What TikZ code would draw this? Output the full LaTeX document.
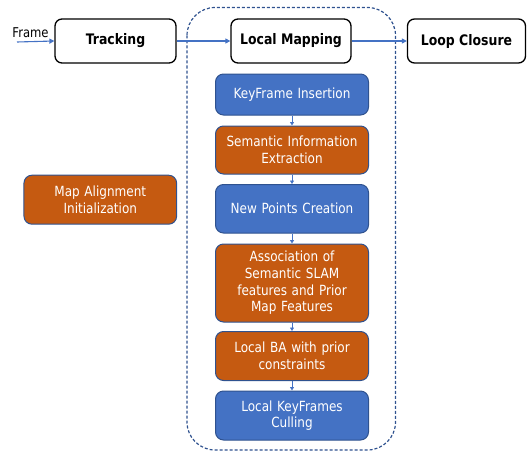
\documentclass[tikz,border=0pt]{standalone}
\usepackage{fontspec}
\setmainfont{DejaVu Sans}[FakeStretch=0.86]
\usetikzlibrary{arrows.meta}
\definecolor{boxblue}{HTML}{4472C4}
\definecolor{boxorange}{HTML}{C55A11}
\definecolor{edgeblue}{HTML}{2F528F}
\begin{document}
\begin{tikzpicture}[x=1pt,y=-1pt,
  topbox/.style={draw=black, line width=1.3pt, rounded corners=7pt, fill=white,
    minimum height=44pt, font=\fontsize{14.5}{17}\selectfont\bfseries, inner sep=0pt},
  stepbox/.style={draw=edgeblue, line width=1pt, rounded corners=8pt, text=white,
    minimum width=153pt, align=center, text width=150pt, inner sep=0pt,
    font=\fontsize{14}{16.7}\selectfont},
  bluebox/.style={stepbox, fill=boxblue},
  orangebox/.style={stepbox, fill=boxorange},
  flow/.style={draw=boxblue, line width=1.1pt, -{Triangle[length=5pt,width=5pt]}},
  small/.style={draw=boxblue, line width=1pt, -{Triangle[length=3.5pt,width=4pt]}}
]
\useasboundingbox (0,0) rectangle (527,452);
% container
\draw[edgeblue, line width=1.2pt, dash pattern=on 3pt off 2pt, rounded corners=28pt]
  (187,7.5) rectangle (395.5,450);
% top row
\node[topbox, minimum width=121pt] (track) at (115.5,41) {Tracking};
\node[topbox, minimum width=120pt] (lm) at (291,41) {Local Mapping};
\node[topbox, minimum width=118pt] (lc) at (466.5,41) {Loop Closure};
\node[font=\fontsize{13.5}{16}\selectfont, inner sep=0pt] (frame) at (30.5,33) {Frame};
\coordinate (fstart) at (17,42);
\draw[flow] (fstart) -- (track.west);
\draw[flow] (track.east) -- (lm.west);
\draw[flow] (lm.east) -- (lc.west);
% steps
\node[bluebox, minimum height=41pt] (s1) at (292,94.5) {KeyFrame Insertion};
\node[orangebox, minimum height=48pt] (s2) at (292,150) {Semantic Information\\Extraction};
\node[bluebox, minimum height=48.5pt] (s3) at (292,208.75) {New Points Creation};
\node[orangebox, minimum height=78pt] (s4) at (292,283) {Association of\\Semantic SLAM\\features and Prior\\Map Features};
\node[orangebox, minimum height=49pt] (s5) at (292,356) {Local BA with prior\\constraints};
\node[bluebox, minimum height=49pt] (s6) at (292,415.5) {Local KeyFrames\\Culling};
\node[orangebox, minimum height=49pt, minimum width=152.7pt] (mai) at (100.3,199.7) {Map Alignment\\Initialization};
\draw[small] (s1) -- (s2);
\draw[small] (s2) -- (s3);
\draw[small] (s3) -- (s4);
\draw[small] (s4) -- (s5);
\draw[small] (s5) -- (s6);
\end{tikzpicture}
\end{document}
